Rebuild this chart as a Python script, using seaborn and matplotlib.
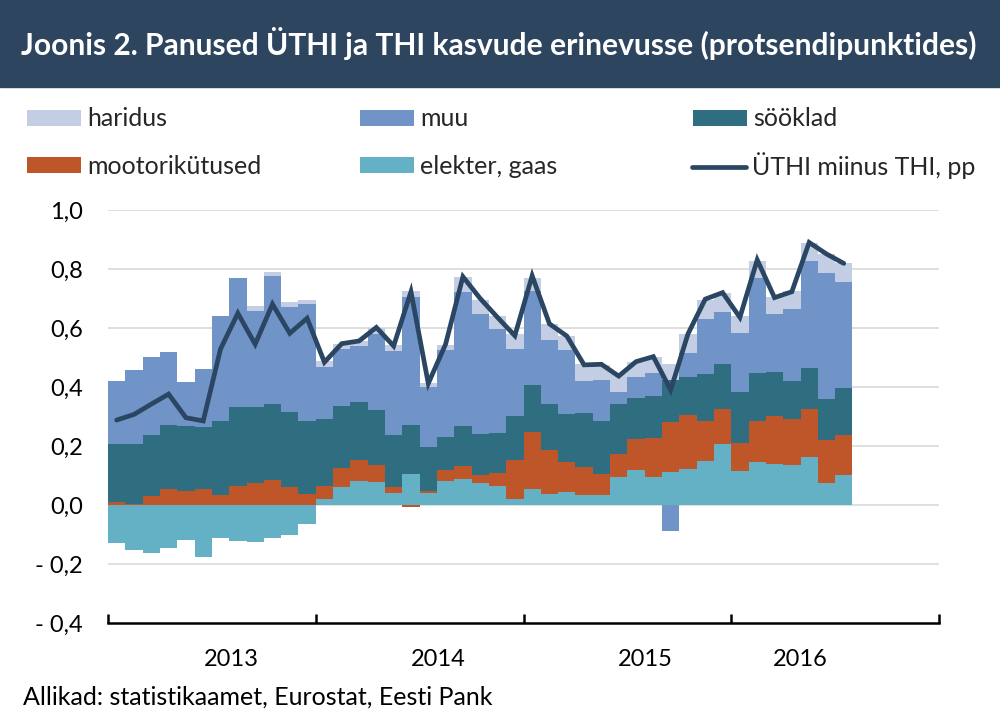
import numpy as np
import pandas as pd
import seaborn as sns
import matplotlib.pyplot as plt
from matplotlib.patches import Patch, Rectangle
from matplotlib.lines import Line2D

# monthly data, Jan 2013 - Jul 2016
months = pd.period_range("2013-01", "2016-07", freq="M").strftime("%Y-%m").tolist()

elekter = [-0.130, -0.151, -0.163, -0.147, -0.119, -0.175, -0.112, -0.121, -0.125, -0.113,
           -0.103, -0.064, 0.019, 0.061, 0.080, 0.077, 0.041, 0.105, 0.040, 0.080,
           0.087, 0.073, 0.066, 0.020, 0.054, 0.037, 0.043, 0.034, 0.034, 0.094,
           0.120, 0.096, 0.113, 0.123, 0.149, 0.208, 0.116, 0.145, 0.138, 0.136,
           0.164, 0.073, 0.103]
mootor = [0.009, 0.005, 0.032, 0.053, 0.049, 0.053, 0.034, 0.064, 0.075, 0.084,
          0.061, 0.037, 0.045, 0.064, 0.072, 0.058, 0.020, -0.008, 0.008, 0.038,
          0.045, 0.028, 0.043, 0.132, 0.194, 0.150, 0.102, 0.095, 0.071, 0.079,
          0.103, 0.130, 0.167, 0.182, 0.136, 0.118, 0.095, 0.140, 0.165, 0.154,
          0.163, 0.149, 0.133]
sooklad = [0.199, 0.202, 0.205, 0.217, 0.220, 0.211, 0.251, 0.269, 0.258, 0.259,
           0.253, 0.249, 0.227, 0.210, 0.198, 0.186, 0.177, 0.167, 0.148, 0.111,
           0.137, 0.140, 0.136, 0.149, 0.158, 0.155, 0.164, 0.184, 0.181, 0.169,
           0.141, 0.145, 0.144, 0.130, 0.159, 0.153, 0.173, 0.162, 0.149, 0.132,
           0.137, 0.137, 0.159]
muu = [0.212, 0.250, 0.266, 0.250, 0.148, 0.198, 0.355, 0.435, 0.325, 0.432,
       0.358, 0.395, 0.177, 0.195, 0.190, 0.259, 0.285, 0.434, 0.203, 0.296,
       0.454, 0.408, 0.351, 0.229, 0.319, 0.219, 0.215, 0.107, 0.138, 0.040,
       0.069, 0.075, -0.088, 0.079, 0.185, 0.174, 0.198, 0.322, 0.194, 0.242,
       0.364, 0.426, 0.362]
haridus = [0.0, 0.0, 0.0, 0.0, 0.0, 0.0, 0.0, 0.0, 0.015, 0.015,
           0.017, 0.015, 0.019, 0.017, 0.016, 0.020, 0.018, 0.020, 0.016, 0.017,
           0.049, 0.047, 0.046, 0.049, 0.046, 0.052, 0.050, 0.058, 0.051, 0.064,
           0.053, 0.057, 0.054, 0.066, 0.066, 0.066, 0.059, 0.059, 0.060, 0.060,
           0.060, 0.066, 0.062]
vahe = [0.288, 0.307, 0.342, 0.376, 0.296, 0.285, 0.529, 0.650, 0.545, 0.681,
        0.582, 0.633, 0.484, 0.547, 0.556, 0.602, 0.539, 0.723, 0.412, 0.545,
        0.774, 0.700, 0.636, 0.574, 0.777, 0.614, 0.573, 0.475, 0.477, 0.437,
        0.486, 0.503, 0.390, 0.580, 0.698, 0.720, 0.636, 0.831, 0.703, 0.723,
        0.890, 0.851, 0.819]

year_labels = ["2013", "2014", "2015", "2016"]
year_label_pos = [6.63, 18.56, 30.55, 39.47]
year_ticks = [-0.5, 11.5, 23.5, 35.5, 47.5]
y_ticks = [-0.4, -0.2, 0.0, 0.2, 0.4, 0.6, 0.8, 1.0]

navy = "#2E4560"
colors = {
    "haridus": "#C3CEE4",
    "muu": "#7094C8",
    "sööklad": "#2F6D81",
    "mootorikütused": "#BF5629",
    "elekter, gaas": "#64B1C6",
}
line_color = "#2A4662"

sns.set_theme(style="white")
plt.rcParams["font.family"] = ["Lato", "DejaVu Sans"]

fig = plt.figure(figsize=(10, 7.18), dpi=100)
ax = fig.add_axes([0.108, 0.1323, 0.831, 0.5752])

x = np.arange(len(months))
stack = [("elekter, gaas", elekter), ("mootorikütused", mootor), ("sööklad", sooklad),
         ("muu", muu), ("haridus", haridus)]
pos_bottom = np.zeros(len(x))
neg_bottom = np.zeros(len(x))
for name, vals in stack:
    v = np.array(vals)
    bottom = np.where(v >= 0, pos_bottom, neg_bottom)
    ax.bar(x, v, bottom=bottom, width=1.0, color=colors[name], linewidth=0, zorder=2)
    pos_bottom = pos_bottom + np.clip(v, 0, None)
    neg_bottom = neg_bottom + np.clip(v, None, 0)

df = pd.DataFrame({"x": x, "vahe": vahe})
sns.lineplot(data=df, x="x", y="vahe", ax=ax, color=line_color, linewidth=3.4,
             solid_capstyle="round", solid_joinstyle="miter", zorder=3)

ax.set_xlim(-0.5, 47.5)
ax.set_ylim(-0.4, 1.0)
ax.set_xlabel("")
ax.set_ylabel("")

# grid
for yv in y_ticks[1:]:
    ax.axhline(yv, color="#D9D9D9", linewidth=1.2, zorder=1)

ax.set_yticks(y_ticks)
ax.set_yticklabels([("- " if v < 0 else "") + f"{abs(v):.1f}".replace(".", ",") for v in y_ticks])
ax.tick_params(axis="y", length=0, pad=18, labelsize=17, labelcolor="black")

ax.set_xticks(year_ticks)
ax.set_xticklabels([])
ax.set_xticks(year_label_pos, minor=True)
ax.set_xticklabels(year_labels, minor=True)
ax.tick_params(axis="x", which="major", bottom=True, direction="in", length=6.5, width=1.8,
               color="black")
ax.tick_params(axis="x", which="minor", bottom=True, length=0, pad=19, labelsize=17,
               labelcolor="black")

for side in ["top", "right", "left"]:
    ax.spines[side].set_visible(False)
ax.spines["bottom"].set_color("black")
ax.spines["bottom"].set_linewidth(1.8)

# title band
fig.add_artist(Rectangle((0, 1 - 87 / 718), 1, 87 / 718, transform=fig.transFigure,
                         color=navy, zorder=0))
fig.text(0.4985, 1 - 44 / 718, "Joonis 2. Panused ÜTHI ja THI kasvude erinevusse (protsendipunktides)",
         ha="center", va="center", color="white", fontsize=21.6, fontweight="bold")

# legend: one entry each so the rows line up
def patch(name):
    return Patch(facecolor=colors[name], edgecolor="none")

entries = [
    (0.027, 119, patch("haridus"), "haridus"),
    (0.360, 119, patch("muu"), "muu"),
    (0.693, 119, patch("sööklad"), "sööklad"),
    (0.027, 166, patch("mootorikütused"), "mootorikütused"),
    (0.360, 166, patch("elekter, gaas"), "elekter, gaas"),
    (0.692, 166, Line2D([], [], color=line_color, linewidth=3.4, solid_capstyle="round"),
     "ÜTHI miinus THI, pp"),
]
for xpos, ypix, handle, label in entries:
    fig.legend([handle], [label], loc="center left", bbox_to_anchor=(xpos, 1 - ypix / 718),
               frameon=False, fontsize=18, handlelength=2.15, handleheight=0.6,
               handletextpad=0.25, borderpad=0, borderaxespad=0)

fig.text(0.023, 1 - 697 / 718, "Allikad: statistikaamet, Eurostat, Eesti Pank",
         ha="left", va="center", fontsize=18, color="black")

fig.savefig("out.png", dpi=100)
